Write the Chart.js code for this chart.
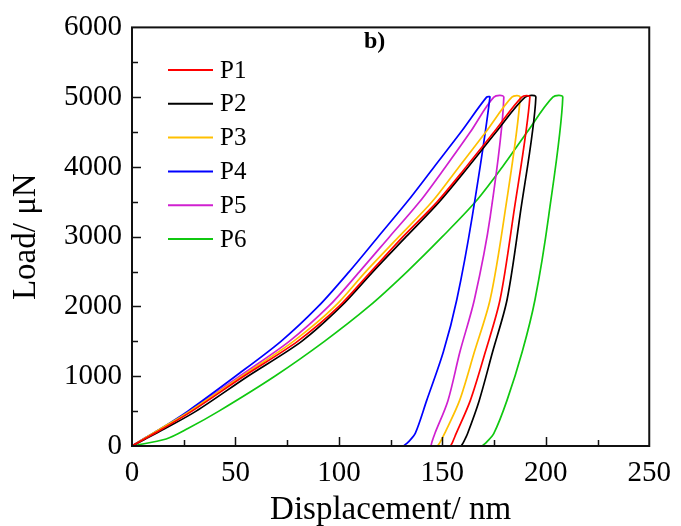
<!DOCTYPE html>
<html lang="en">
<head>
<meta charset="UTF-8">
<title>Load - displacement</title>
<script src="https://cdn.jsdelivr.net/npm/chart.js"></script>
<style>
  html, body { margin: 0; padding: 0; background: #fff; }
</style>
</head>
<body>
<canvas id="myChart" width="681" height="526"></canvas>
<script>
// load levels (uN) where the loading branches were read
const loadLevels = [0, 100, 250, 500, 1000, 1500, 2000, 2500, 3000, 3500, 4000, 4500, 5000];
// load levels for the unloading branches (first = end of hold)
const unloadLevels = [5000, 3300, 2100, 1350, 650, 180, 60, 0];

const names = ['P1', 'P2', 'P3', 'P4', 'P5', 'P6'];
const colors = ['#ff0000', '#000000', '#ffc000', '#0000ff', '#d020d0', '#10c810'];

// displacement (nm) on loading
const loadP1 = [0, 6, 15, 29, 54, 80, 100, 115.5, 131, 147.5, 161.5, 175, 188.4];
const loadP2 = [0, 6.5, 16, 31, 56, 82, 101, 116.5, 132.5, 148.5, 162.5, 176, 190];
const loadP3 = [0, 5.5, 14, 28, 53, 78, 98, 113, 129, 145, 158, 171, 183.6];
const loadP4 = [0, 5.5, 14, 27, 50, 72, 90, 105, 119, 133, 146, 159, 171.4];
const loadP5 = [0, 5.5, 14.5, 28, 52, 76, 95, 110, 124.5, 139, 151.5, 163.5, 174.9];
const loadP6 = [0, 16.5, 27, 42, 69, 93, 114.5, 133, 150, 166, 179, 191, 203.4];

// displacement (nm) on unloading
const unloadP1 = [192.3, 184.3, 177.9, 170.8, 163.5, 156.7, 155, 154];
const unloadP2 = [195.2, 187.5, 181.3, 174.3, 167.8, 162.2, 160.3, 159.1];
const unloadP3 = [187.6, 180, 173.1, 165.5, 158.3, 151.1, 149, 147.7];
const unloadP4 = [173.0, 164.5, 157, 150.5, 142.4, 136.9, 133.6, 131.3];
const unloadP5 = [179.7, 173.2, 165.5, 158.5, 152.7, 146.4, 145, 144.5];
const unloadP6 = [208.2, 201.4, 194.8, 188.6, 181.2, 174.9, 171.5, 169.3];

const loadData = [loadP1, loadP2, loadP3, loadP4, loadP5, loadP6];
const unloadData = [unloadP1, unloadP2, unloadP3, unloadP4, unloadP5, unloadP6];

const serif = "'Liberation Serif', 'Times New Roman', serif";

const datasets = names.map((name, i) => {
  const pts = loadLevels.map((p, k) => ({ x: loadData[i][k], y: p }));
  unloadLevels.forEach((p, k) => pts.push({ x: unloadData[i][k], y: p }));
  return {
    label: name,
    data: pts,
    borderColor: colors[i],
    backgroundColor: colors[i],
    borderWidth: 1.7,
    pointRadius: 0,
    showLine: true,
    fill: false,
    tension: 0.3
  };
});

// frame, inward ticks, legend and panel letter
const decor = {
  id: 'decor',
  afterDraw(chart) {
    const ctx = chart.ctx;
    const a = chart.chartArea;
    const xs = chart.scales.x, ys = chart.scales.y;
    ctx.save();
    ctx.strokeStyle = '#111';
    ctx.lineWidth = 2;
    ctx.strokeRect(a.left, a.top, a.right - a.left, a.bottom - a.top);

    ctx.lineWidth = 1.5;
    ctx.beginPath();
    for (let v = 25; v < 250; v += 25) {
      const px = Math.round(xs.getPixelForValue(v)) + 0.5;
      const len = v % 50 === 0 ? 9 : 6;
      ctx.moveTo(px, a.bottom);
      ctx.lineTo(px, a.bottom - len);
    }
    for (let v = 500; v < 6000; v += 500) {
      const py = Math.round(ys.getPixelForValue(v)) + 0.5;
      const len = v % 1000 === 0 ? 9 : 6;
      ctx.moveTo(a.left, py);
      ctx.lineTo(a.left + len, py);
    }
    ctx.stroke();

    // legend
    ctx.font = '25px ' + serif;
    ctx.textBaseline = 'middle';
    ctx.textAlign = 'left';
    chart.data.datasets.forEach((ds, i) => {
      const y = 70 + i * 33.8;
      ctx.strokeStyle = ds.borderColor;
      ctx.lineWidth = 2;
      ctx.beginPath();
      ctx.moveTo(168, y);
      ctx.lineTo(213, y);
      ctx.stroke();
      ctx.fillStyle = '#000';
      ctx.fillText(ds.label, 220, y + 1);
    });

    ctx.font = 'bold 24px ' + serif;
    ctx.fillText('b)', 364, 42);
    ctx.restore();
  }
};

new Chart(document.getElementById('myChart'), {
  type: 'scatter',
  data: { datasets: datasets },
  options: {
    responsive: false,
    animation: false,
    layout: { padding: { top: 22, right: 23, left: 0, bottom: 0 } },
    plugins: { legend: { display: false }, tooltip: { enabled: false } },
    scales: {
      x: {
        type: 'linear', min: 0, max: 250,
        grid: { display: false, drawTicks: false, tickLength: 0 },
        border: { display: false },
        ticks: { stepSize: 50, padding: 10, color: '#000', font: { family: serif, size: 29 },
                 callback: v => String(v) },
        title: { display: true, text: 'Displacement/ nm', color: '#000', font: { family: serif, size: 33 },
                 padding: { top: 0, bottom: -4 } },
        afterFit(s) { s.height = 80; }
      },
      y: {
        min: 0, max: 6000,
        grid: { display: false, drawTicks: false, tickLength: 0 },
        border: { display: false },
        ticks: { stepSize: 1000, padding: 10, color: '#000', font: { family: serif, size: 29 },
                 callback: v => String(v) },
        title: { display: true, text: 'Load/ μN', color: '#000', font: { family: serif, size: 33 },
                 padding: { top: 7, bottom: 0 } },
        afterFit(s) { s.width = 132; }
      }
    }
  },
  plugins: [decor]
});
</script>
</body>
</html>
